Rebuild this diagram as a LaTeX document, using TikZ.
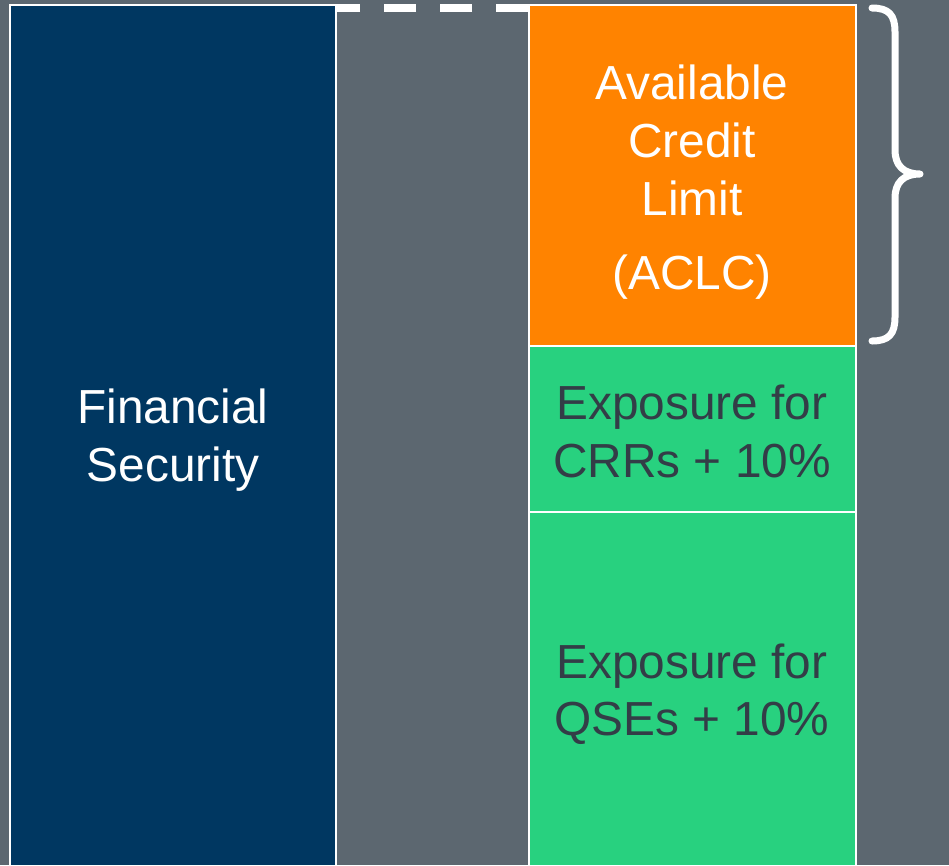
\documentclass[tikz,border=0pt]{standalone}
\usepackage{fontspec}
\setmainfont{Liberation Sans}
\definecolor{bggray}{HTML}{5C6770}
\definecolor{fsblue}{HTML}{003761}
\definecolor{aclcorange}{HTML}{FF8300}
\definecolor{expgreen}{HTML}{28D17F}
\definecolor{darktext}{HTML}{333D47}
\tikzset{
  box/.style={draw=white, line width=2pt},
  lbl/.style={anchor=base, inner sep=0pt, font=\fontsize{47.8}{58}\selectfont},
  wlbl/.style={lbl, text=white},
  dlbl/.style={lbl, text=darktext},
  dashline/.style={draw=white, line width=8pt, dash pattern=on 32pt off 24pt},
  bracestyle/.style={draw=white, line width=7pt, line cap=round, line join=round}
}
\begin{document}
\begin{tikzpicture}[x=1pt,y=-1pt]
\useasboundingbox (0,0) rectangle (949,865);
\clip (0,0) rectangle (949,865);
\fill[bggray] (0,0) rectangle (949,865);
% boxes
\draw[box, fill=fsblue] (10,5) rectangle (336,866);
\draw[box, fill=aclcorange] (529,5) rectangle (856,346);
\draw[box, fill=expgreen] (529,346) rectangle (856,512);
\draw[box, fill=expgreen] (529,512) rectangle (856,866);
\coordinate (dashR) at (528,8);
\coordinate (dashL) at (337,8);
\draw[dashline] (dashR) -- (dashL);
% brace
\draw[bracestyle] (872,8) .. controls (889,8) and (895,15) .. (895,32)
  -- (895,150) .. controls (895,166) and (904,174) .. (920,174)
  .. controls (904,174) and (895,182) .. (895,198)
  -- (895,317) .. controls (895,334) and (889,341) .. (872,341);
% labels
\node[wlbl] (fs1) at (173,423) {Financial};
\node[wlbl] (fs2) at (173,481) {Security};
\node[wlbl] (ac1) at (692,99) {Available};
\node[wlbl] (ac2) at (692,157) {Credit};
\node[wlbl] (ac3) at (692,215) {Limit};
\node[wlbl] (ac4) at (692,289) {(ACLC)};
\node[dlbl] (cr1) at (692,419) {Exposure for};
\node[dlbl] (cr2) at (692,477) {CRRs + 10\%};
\node[dlbl] (qs1) at (692,678) {Exposure for};
\node[dlbl] (qs2) at (692,735) {QSEs + 10\%};
\end{tikzpicture}
\end{document}
